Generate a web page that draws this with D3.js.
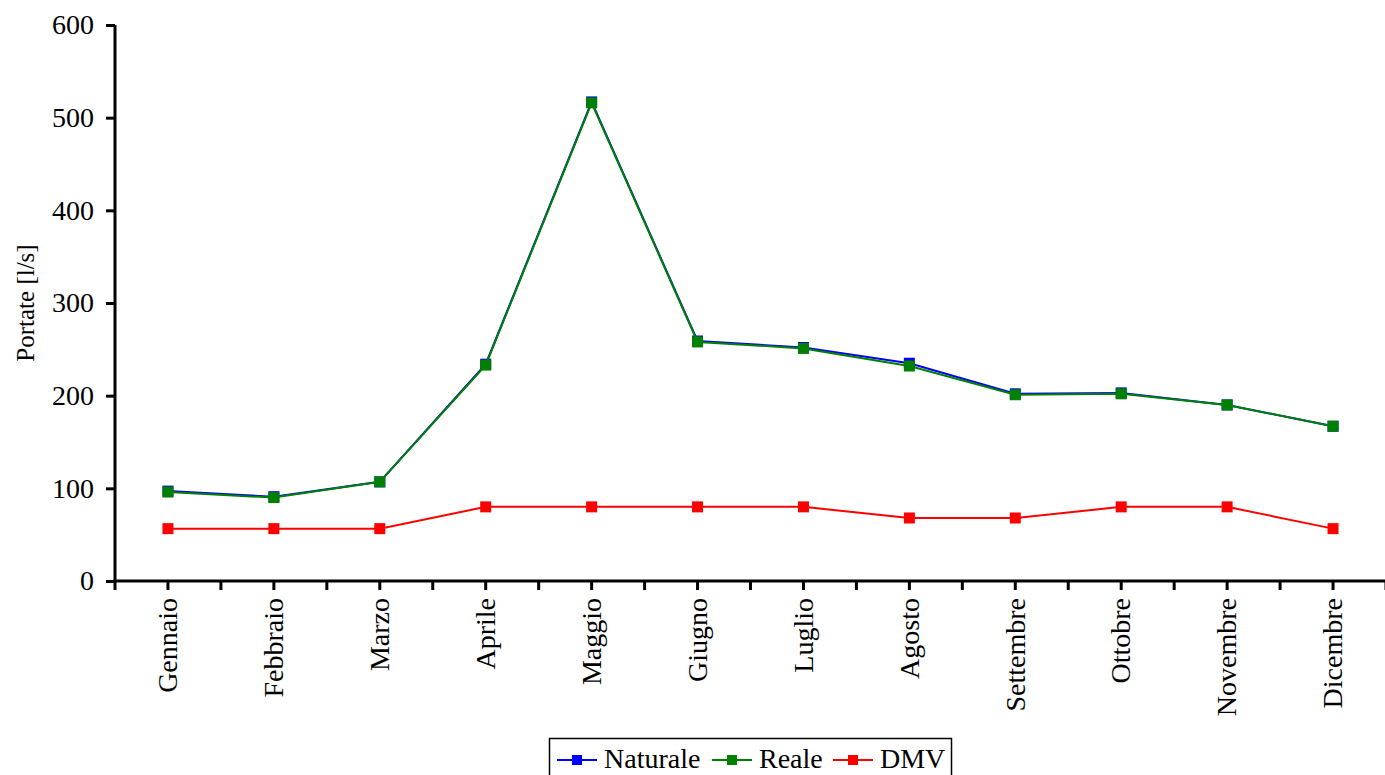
<!DOCTYPE html>
<html>
<head>
<meta charset="utf-8">
<script src="https://cdn.jsdelivr.net/npm/d3@7"></script>
<style>
  html, body { margin: 0; padding: 0; background: #fff; }
  svg { display: block; }
  text { font-family: "Liberation Serif", "Times New Roman", serif; fill: #000; }
</style>
</head>
<body>
<script>
const months = ["Gennaio","Febbraio","Marzo","Aprile","Maggio","Giugno","Luglio","Agosto","Settembre","Ottobre","Novembre","Dicembre"];
const naturale = [97, 91, 107, 234, 517, 259, 252, 235, 202, 203, 190, 167];
const reale    = [96, 90, 107, 233, 516, 258, 251, 232, 201, 202, 190, 167];
const dmv      = [56.5, 56.5, 56.5, 80, 80, 80, 80, 68, 68, 80, 80, 56.5];
const yTicks   = [0, 100, 200, 300, 400, 500, 600];
const seriesNames = ["Naturale", "Reale", "DMV"];
const seriesColors = ["#0000ff", "#008000", "#ff0000"];

const W = 1385, H = 775;
const mLeft = 115, mRight = 1386, mTop = 25, mBottom = 581;

const svg = d3.select("body").append("svg").attr("width", W).attr("height", H);

const x = d3.scaleBand().domain(months).range([mLeft, mRight]).paddingInner(0).paddingOuter(0);
const y = d3.scaleLinear().domain([0, 600]).range([mBottom, mTop]);

// Y axis
const yAxis = d3.axisLeft(y).tickValues(yTicks).tickSize(9).tickPadding(12).tickFormat(d3.format("d"));
const gy = svg.append("g").attr("transform", `translate(${mLeft},0)`).call(yAxis);
gy.select(".domain").attr("stroke", "#000").attr("stroke-width", 3).attr("d", `M0,${mTop}V${mBottom + 1.5}`);
gy.selectAll(".tick line").attr("stroke", "#000").attr("stroke-width", 3);
gy.selectAll(".tick text").style("font-size", "28px").attr("font-family", "Liberation Serif");

// X axis: ticks at centers and boundaries
const xAxis = d3.axisBottom(x).tickSize(9).tickSizeOuter(0).tickPadding(0);
const gx = svg.append("g").attr("transform", `translate(0,${mBottom})`).call(xAxis);
gx.select(".domain").attr("stroke", "#000").attr("stroke-width", 3).attr("d", `M${mLeft - 1.5},0H${W}`);
gx.selectAll(".tick line").attr("stroke", "#000").attr("stroke-width", 3);
gx.selectAll(".tick text")
  .style("font-size", "28px")
  .attr("font-family", "Liberation Serif")
  .attr("text-anchor", "end")
  .attr("transform", "rotate(-90)")
  .attr("x", -17)
  .attr("y", 0)
  .attr("dy", "0.33em");
// boundary ticks
const bounds = months.map((m) => x(m)).concat([x(months[months.length - 1]) + x.bandwidth()]);
gx.selectAll(".btick").data(bounds).enter().append("line")
  .attr("x1", d => d).attr("x2", d => d).attr("y1", 0).attr("y2", 9)
  .attr("stroke", "#000").attr("stroke-width", 3);

// Y label
svg.append("text")
  .attr("transform", `translate(34,${(mTop + mBottom) / 2}) rotate(-90)`)
  .attr("text-anchor", "middle")
  .style("font-size", "25px")
  .text("Portate [l/s]");

const cx = m => x(m) + x.bandwidth() / 2;
const line = d3.line().x((d, i) => cx(months[i])).y(d => y(d));
const allSeries = [naturale, reale, dmv];
const ms = 11;

allSeries.forEach((vals, si) => {
  const g = svg.append("g");
  g.append("path").datum(vals).attr("d", line).attr("fill", "none")
    .attr("stroke", seriesColors[si]).attr("stroke-width", 2);
  g.selectAll("rect").data(vals).enter().append("rect")
    .attr("x", (d, i) => cx(months[i]) - ms / 2)
    .attr("y", d => y(d) - ms / 2)
    .attr("width", ms).attr("height", ms)
    .attr("fill", seriesColors[si]);
});

// Legend
const lg = svg.append("g");
lg.append("rect").attr("x", 549.5).attr("y", 738.5).attr("width", 402).attr("height", 45)
  .attr("fill", "#fff").attr("stroke", "#000").attr("stroke-width", 1.5);
const legendX = [557, 712, 833];
seriesNames.forEach((n, i) => {
  const lx = legendX[i];
  lg.append("line").attr("x1", lx).attr("x2", lx + 40).attr("y1", 760).attr("y2", 760)
    .attr("stroke", seriesColors[i]).attr("stroke-width", 2);
  lg.append("rect").attr("x", lx + 20 - 5).attr("y", 755).attr("width", 10).attr("height", 10)
    .attr("fill", seriesColors[i]);
  lg.append("text").attr("x", lx + 47).attr("y", 768).style("font-size", "28px").text(n);
});
</script>
</body>
</html>
